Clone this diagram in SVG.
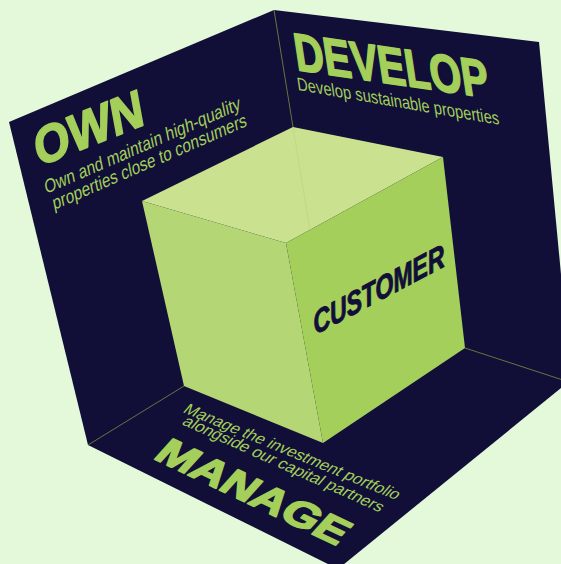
<svg xmlns="http://www.w3.org/2000/svg" width="561" height="564" viewBox="0 0 561 564">
  <style>
    .navy { fill: #110e38; }
    .seam { stroke: #66763f; stroke-width: 1; fill: none; }
    .head { font-family: "Liberation Sans", Arial, sans-serif; font-weight: 700; fill: #a3cf5a; stroke: #a3cf5a; stroke-width: 1.8; stroke-linejoin: round; }
    .sub { font-family: "Liberation Sans", Arial, sans-serif; font-weight: 400; fill: #a3cf5a; }
    .cust { font-family: "Liberation Sans", Arial, sans-serif; font-weight: 700; font-style: italic; fill: #110e38; stroke: #110e38; stroke-width: 0.9; stroke-linejoin: round; }
  </style>
  <rect width="561" height="564" fill="#e3f9da"/>

  <g id="room">
    <polygon class="navy" points="9,122 274,10 539,42 571,380 338,569 88,445"/>
  </g>

  <g id="seams">
    <line class="seam" x1="274" y1="10" x2="293" y2="127"/>
    <line class="seam" x1="88" y1="445" x2="184" y2="386"/>
    <line class="seam" x1="465" y1="348" x2="575" y2="384"/>
  </g>

  <g id="cube">
    <polygon points="142,201 293,127 443,157 286,243" fill="#cae190"/>
    <line x1="293" y1="127" x2="310" y2="230" stroke="#bdd585" stroke-width="0.8"/>
    <polygon points="142,201 286,243 323,443 184,386" fill="#b5d674"/>
    <polygon points="286,243 443,157 465,348 323,443" fill="#a3cf5a"/>
  </g>

  <g id="own">
    <text class="head" font-size="52" textLength="116" lengthAdjust="spacingAndGlyphs" transform="matrix(0.929,-0.370,0.18,0.984,38,167)">OWN</text>
    <text class="sub" font-size="19" textLength="213" lengthAdjust="spacingAndGlyphs" transform="matrix(0.917,-0.399,0.2,0.98,46,194)">Own and maintain high-quality</text>
    <text class="sub" font-size="19" textLength="211" lengthAdjust="spacingAndGlyphs" transform="matrix(0.917,-0.399,0.2,0.98,54,210)">properties close to consumers</text>
  </g>

  <g id="develop">
    <text class="head" font-size="54" textLength="196" lengthAdjust="spacingAndGlyphs" transform="matrix(0.9895,0.144,0.148,0.989,297,70)">DEVELOP</text>
    <text class="sub" font-size="18.5" textLength="205" lengthAdjust="spacingAndGlyphs" transform="matrix(0.985,0.170,0.148,0.989,298,90)">Develop sustainable properties</text>
  </g>

  <g id="manage">
    <text class="sub" font-size="18" textLength="231" lengthAdjust="spacingAndGlyphs" transform="matrix(0.925,0.381,-0.6,0.7,182,412)">Manage the investment portfolio</text>
    <text class="sub" font-size="18" textLength="217" lengthAdjust="spacingAndGlyphs" transform="matrix(0.914,0.407,-0.6,0.7,181,424)">alongside our capital partners</text>
    <text class="head" font-size="40" textLength="205" lengthAdjust="spacingAndGlyphs" transform="matrix(0.903,0.429,-0.67,0.74,152,458)">MANAGE</text>
  </g>

  <g id="customer">
    <text class="cust" font-size="32" textLength="148" lengthAdjust="spacingAndGlyphs" transform="matrix(0.883,-0.469,0.15,0.99,315,335)">CUSTOMER</text>
  </g>
</svg>
